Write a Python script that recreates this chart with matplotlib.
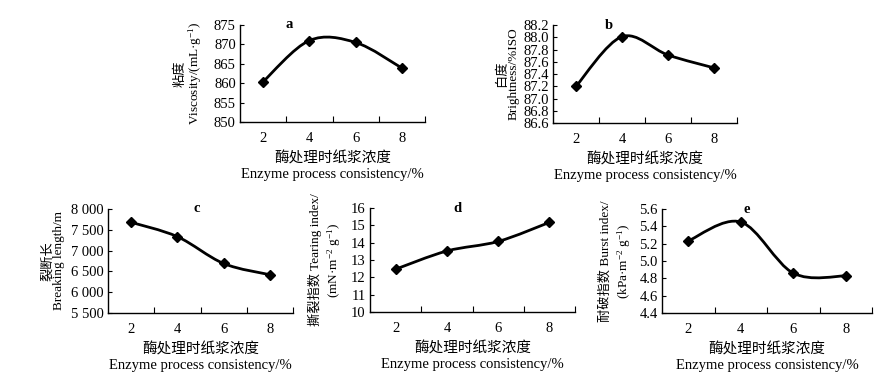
import matplotlib
matplotlib.use("Agg")
import matplotlib.pyplot as plt
from matplotlib.path import Path
from matplotlib.patches import PathPatch

plt.rcParams["font.family"] = ["Liberation Serif", "Noto Sans CJK SC"]
plt.rcParams["mathtext.fontset"] = "custom"
plt.rcParams["mathtext.rm"] = "Liberation Serif"
plt.rcParams["mathtext.default"] = "regular"
plt.rcParams["axes.unicode_minus"] = True

# ── Data ──────────────────────────────────────────────────────────────────────
consistency = ["2", "4", "6", "8"]

viscosity  = [860.4, 871.0, 870.5, 863.9]
brightness = [87.20, 88.01, 87.71, 87.50]
breaking   = [7680, 7335, 6690, 6420]
tearing    = [12.47, 13.52, 14.07, 15.17]
burst      = [5.232, 5.450, 4.860, 4.828]

visc_ticks   = [850, 855, 860, 865, 870, 875]
bright_ticks = [86.6, 86.8, 87.0, 87.2, 87.4, 87.6, 87.8, 88.0, 88.2]
break_ticks  = [5500, 6000, 6500, 7000, 7500, 8000]
break_labels = ["5 500", "6 000", "6 500", "7 000", "7 500", "8 000"]
tear_ticks   = [10, 11, 12, 13, 14, 15, 16]
burst_ticks  = [4.4, 4.6, 4.8, 5.0, 5.2, 5.4, 5.6]

XLABEL = "酶处理时纸浆浓度\nEnzyme process consistency/%"


def smooth_path(xs, ys):
    """Excel-like smoothed line as cubic Bezier segments (Catmull-Rom)."""
    n = len(xs)
    verts = [(xs[0], ys[0])]
    codes = [Path.MOVETO]
    for i in range(n - 1):
        i0, i3 = max(i - 1, 0), min(i + 2, n - 1)
        c1 = (xs[i] + (xs[i + 1] - xs[i0]) / 6, ys[i] + (ys[i + 1] - ys[i0]) / 6)
        c2 = (xs[i + 1] - (xs[i3] - xs[i]) / 6, ys[i + 1] - (ys[i3] - ys[i]) / 6)
        verts += [c1, c2, (xs[i + 1], ys[i + 1])]
        codes += [Path.CURVE4] * 3
    return Path(verts, codes)


def panel(fig, rect_px, values, ticks, tick_labels, ylabel, letter, letter_x,
          ypad, yspacing=0.95):
    W, H = 886, 381
    l, r, t, b = rect_px
    ax = fig.add_axes([l / W, (H - b) / H, (r - l) / W, (b - t) / H])
    xs = list(range(1, len(values) + 1))
    ax.add_patch(PathPatch(smooth_path(xs, values), fill=False,
                           edgecolor="black", linewidth=2.0, transform=ax.transData))
    ax.plot(xs, values, linestyle="none", marker="D", markersize=5,
            color="black")

    ax.set_xlim(0.5, len(values) + 0.5)
    ax.set_ylim(ticks[0], ticks[-1])
    ax.set_xticks([x + 0.5 for x in range(len(values))][1:] + [len(values) + 0.5])
    ax.set_xticklabels([])
    ax.set_xticks(xs, minor=True)
    ax.set_xticklabels(consistency, minor=True)
    ax.tick_params(axis="x", which="major", direction="in", length=4, width=0.8)
    ax.tick_params(axis="x", which="minor", length=0, pad=7, labelsize=10.5)
    ax.set_yticks(ticks)
    ax.set_yticklabels(tick_labels)
    ax.tick_params(axis="y", direction="in", length=3, width=0.8, pad=3,
                   labelsize=10.5)

    for s in ("top", "right"):
        ax.spines[s].set_visible(False)
    for s in ("left", "bottom"):
        ax.spines[s].set_linewidth(1.0)

    ax.set_xlabel(XLABEL, fontsize=10.5, linespacing=1.25, labelpad=5)
    ax.set_ylabel(ylabel, fontsize=9.5, linespacing=yspacing, labelpad=ypad)
    ax.text(letter_x, ticks[-1], letter, ha="center", va="center",
            fontsize=10.5, fontweight="bold")
    return ax


fig = plt.figure(figsize=(8.86, 3.81), dpi=100)

panel(fig, (240, 425, 25, 122), viscosity, visc_ticks,
      [str(v) for v in visc_ticks],
      "粘度\nViscosity/(mL·g$^{-1}$)", "a", 1.57, 7)
panel(fig, (553, 737, 25, 123), brightness, bright_ticks,
      [f"{v:.1f}" for v in bright_ticks],
      "白度\nBrightness/%ISO", "b", 1.72, 3)
panel(fig, (108, 293, 209, 313), breaking, break_ticks, break_labels,
      "裂断长\nBreaking length/m", "c", 2.41, 4)
panel(fig, (370, 575, 208, 312), tearing, tear_ticks,
      [str(v) for v in tear_ticks],
      "撕裂指数 Tearing index/\n(mN·m$^{-2}$ g$^{-1}$)", "d", 2.2, 6, 1.25)
panel(fig, (662, 872, 209, 313), burst, burst_ticks,
      [f"{v:.1f}" for v in burst_ticks],
      "耐破指数 Burst index/\n(kPa·m$^{-2}$ g$^{-1}$)", "e", 2.12, 5, 1.25)

fig.savefig("out.png", dpi=100)
